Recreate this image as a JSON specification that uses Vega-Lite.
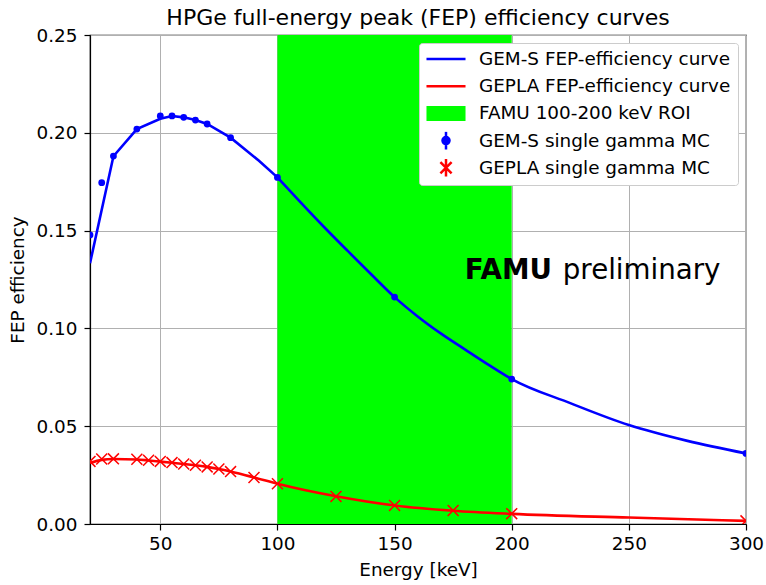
{
  "$schema": "https://vega.github.io/schema/vega-lite/v6.json",
  "width": 656,
  "height": 489,
  "autosize": "none",
  "padding": {"left": 90, "top": 35, "right": 20, "bottom": 61},
  "background": "white",
  "title": {
    "text": "HPGe full-energy peak (FEP) efficiency curves",
    "font": "DejaVu Sans",
    "fontSize": 22,
    "fontWeight": "normal",
    "color": "black",
    "anchor": "middle",
    "offset": -4
  },
  "config": {
    "view": {"stroke": "black", "strokeWidth": 1.2},
    "font": "DejaVu Sans",
    "axis": {
      "domainColor": "black",
      "domainWidth": 1.2,
      "tickColor": "black",
      "tickSize": 6,
      "tickWidth": 1.2,
      "labelFont": "DejaVu Sans",
      "labelFontSize": 18.4,
      "labelColor": "black",
      "labelFlush": false,
      "labelOverlap": false,
      "titleFont": "DejaVu Sans",
      "titleFontSize": 18.4,
      "titleFontWeight": "normal",
      "titleColor": "black",
      "gridColor": "#b0b0b0",
      "gridWidth": 1,
      "zindex": 1
    },
    "legend": {
      "title": null,
      "orient": "top-right",
      "offset": 8,
      "padding": 7,
      "symbolOffset": 10.5,
      "labelOffset": 23.5,
      "rowPadding": 8.2,
      "clipHeight": 18,
      "symbolSize": 256,
      "symbolStrokeWidth": 2.5,
      "symbolOpacity": 1,
      "labelFont": "DejaVu Sans",
      "labelFontSize": 18.4,
      "labelColor": "black",
      "labelLimit": 400,
      "fillColor": "white",
      "strokeColor": "#cccccc",
      "cornerRadius": 3
    }
  },
  "datasets": {
    "curve": [
      {"series": "GEM-S", "energy": 20, "eff": 0.1333},
      {"series": "GEM-S", "energy": 30, "eff": 0.188},
      {"series": "GEM-S", "energy": 40, "eff": 0.2019},
      {"series": "GEM-S", "energy": 50, "eff": 0.2072},
      {"series": "GEM-S", "energy": 55, "eff": 0.2086},
      {"series": "GEM-S", "energy": 60, "eff": 0.2079},
      {"series": "GEM-S", "energy": 65, "eff": 0.2065},
      {"series": "GEM-S", "energy": 70, "eff": 0.2045},
      {"series": "GEM-S", "energy": 80, "eff": 0.1975},
      {"series": "GEM-S", "energy": 92, "eff": 0.1858},
      {"series": "GEM-S", "energy": 100, "eff": 0.1772},
      {"series": "GEM-S", "energy": 110, "eff": 0.1643},
      {"series": "GEM-S", "energy": 120, "eff": 0.1517},
      {"series": "GEM-S", "energy": 130, "eff": 0.1396},
      {"series": "GEM-S", "energy": 140, "eff": 0.1277},
      {"series": "GEM-S", "energy": 150, "eff": 0.116},
      {"series": "GEM-S", "energy": 160, "eff": 0.106},
      {"series": "GEM-S", "energy": 170, "eff": 0.0972},
      {"series": "GEM-S", "energy": 180, "eff": 0.0893},
      {"series": "GEM-S", "energy": 190, "eff": 0.0815},
      {"series": "GEM-S", "energy": 200, "eff": 0.0741},
      {"series": "GEM-S", "energy": 225, "eff": 0.0618},
      {"series": "GEM-S", "energy": 250, "eff": 0.0506},
      {"series": "GEM-S", "energy": 275, "eff": 0.0425},
      {"series": "GEM-S", "energy": 300, "eff": 0.0361},
      {"series": "GEPLA", "energy": 20, "eff": 0.0312},
      {"series": "GEPLA", "energy": 25, "eff": 0.0328},
      {"series": "GEPLA", "energy": 30, "eff": 0.0332},
      {"series": "GEPLA", "energy": 40, "eff": 0.033},
      {"series": "GEPLA", "energy": 45, "eff": 0.0325},
      {"series": "GEPLA", "energy": 50, "eff": 0.0319},
      {"series": "GEPLA", "energy": 55, "eff": 0.0313},
      {"series": "GEPLA", "energy": 60, "eff": 0.0307},
      {"series": "GEPLA", "energy": 65, "eff": 0.03},
      {"series": "GEPLA", "energy": 70, "eff": 0.0292},
      {"series": "GEPLA", "energy": 75, "eff": 0.0281},
      {"series": "GEPLA", "energy": 80, "eff": 0.0268},
      {"series": "GEPLA", "energy": 90, "eff": 0.0238},
      {"series": "GEPLA", "energy": 100, "eff": 0.0206},
      {"series": "GEPLA", "energy": 125, "eff": 0.0142},
      {"series": "GEPLA", "energy": 150, "eff": 0.0095},
      {"series": "GEPLA", "energy": 175, "eff": 0.0068},
      {"series": "GEPLA", "energy": 200, "eff": 0.0052},
      {"series": "GEPLA", "energy": 250, "eff": 0.0033},
      {"series": "GEPLA", "energy": 300, "eff": 0.0016}
    ],
    "mc": [
      {"series": "GEM-S", "energy": 20, "eff": 0.1478},
      {"series": "GEM-S", "energy": 25, "eff": 0.1745},
      {"series": "GEM-S", "energy": 30, "eff": 0.1881},
      {"series": "GEM-S", "energy": 40, "eff": 0.2019},
      {"series": "GEM-S", "energy": 50, "eff": 0.2086},
      {"series": "GEM-S", "energy": 55, "eff": 0.2086},
      {"series": "GEM-S", "energy": 60, "eff": 0.2079},
      {"series": "GEM-S", "energy": 65, "eff": 0.2065},
      {"series": "GEM-S", "energy": 70, "eff": 0.2045},
      {"series": "GEM-S", "energy": 80, "eff": 0.1975},
      {"series": "GEM-S", "energy": 100, "eff": 0.1772},
      {"series": "GEM-S", "energy": 150, "eff": 0.116},
      {"series": "GEM-S", "energy": 200, "eff": 0.0741},
      {"series": "GEM-S", "energy": 300, "eff": 0.0361},
      {"series": "GEPLA", "energy": 20, "eff": 0.032},
      {"series": "GEPLA", "energy": 25, "eff": 0.0332},
      {"series": "GEPLA", "energy": 30, "eff": 0.0333},
      {"series": "GEPLA", "energy": 40, "eff": 0.0331},
      {"series": "GEPLA", "energy": 45, "eff": 0.0326},
      {"series": "GEPLA", "energy": 50, "eff": 0.032},
      {"series": "GEPLA", "energy": 55, "eff": 0.0314},
      {"series": "GEPLA", "energy": 60, "eff": 0.0307},
      {"series": "GEPLA", "energy": 65, "eff": 0.03},
      {"series": "GEPLA", "energy": 70, "eff": 0.0292},
      {"series": "GEPLA", "energy": 75, "eff": 0.0281},
      {"series": "GEPLA", "energy": 80, "eff": 0.0268},
      {"series": "GEPLA", "energy": 90, "eff": 0.0238},
      {"series": "GEPLA", "energy": 100, "eff": 0.0206},
      {"series": "GEPLA", "energy": 125, "eff": 0.0141},
      {"series": "GEPLA", "energy": 150, "eff": 0.0095},
      {"series": "GEPLA", "energy": 175, "eff": 0.0069},
      {"series": "GEPLA", "energy": 200, "eff": 0.0053},
      {"series": "GEPLA", "energy": 300, "eff": 0.0016}
    ],
    "roi": [{"start": 100, "end": 200}],
    "legend": [
      {"label": "GEM-S FEP-efficiency curve", "energy": -100, "eff": -1},
      {"label": "GEPLA FEP-efficiency curve", "energy": -100, "eff": -1},
      {"label": "FAMU 100-200 keV ROI", "energy": -100, "eff": -1},
      {"label": "GEM-S single gamma MC", "energy": -100, "eff": -1},
      {"label": "GEPLA single gamma MC", "energy": -100, "eff": -1}
    ],
    "notes": [
      {"text": "FAMU", "energy": 180.0, "eff": 0.1253, "part": "bold"},
      {"text": "preliminary", "energy": 221.8, "eff": 0.1253, "part": "normal"}
    ]
  },
  "encoding": {
    "x": {
      "field": "energy",
      "type": "quantitative",
      "scale": {"domain": [20, 300], "nice": false, "zero": false},
      "axis": {"title": "Energy [keV]", "values": [50, 100, 150, 200, 250, 300], "format": "d", "labelPadding": 4, "titlePadding": 8}
    },
    "y": {
      "field": "eff",
      "type": "quantitative",
      "scale": {"domain": [0, 0.25], "nice": false, "zero": false},
      "axis": {"title": "FEP efficiency", "values": [0, 0.05, 0.1, 0.15, 0.2, 0.25], "format": ".2f", "labelPadding": 7, "titlePadding": 9}
    }
  },
  "layer": [
    {
      "data": {"name": "roi"},
      "mark": {"type": "rect", "color": "#00ff00"},
      "encoding": {
        "x": {"field": "start", "type": "quantitative"},
        "x2": {"field": "end"},
        "y": null
      }
    },
    {
      "data": {"name": "curve"},
      "transform": [{"filter": "datum.series === 'GEM-S' && datum.energy <= 100"}],
      "mark": {"type": "line", "color": "#0000ff", "strokeWidth": 2.6, "clip": true}
    },
    {
      "data": {"name": "curve"},
      "transform": [{"filter": "datum.series === 'GEM-S' && datum.energy >= 100"}],
      "mark": {"type": "line", "color": "#0000ff", "strokeWidth": 2.6, "interpolate": "monotone", "clip": true}
    },
    {
      "data": {"name": "curve"},
      "transform": [{"filter": "datum.series === 'GEPLA'"}],
      "mark": {"type": "line", "color": "#ff0000", "strokeWidth": 2.6, "interpolate": "monotone", "clip": true}
    },
    {
      "data": {"name": "mc"},
      "transform": [{"filter": "datum.series === 'GEM-S'"}],
      "mark": {"type": "point", "shape": "circle", "filled": true, "color": "#0000ff", "size": 46, "opacity": 1, "clip": true}
    },
    {
      "data": {"name": "mc"},
      "transform": [{"filter": "datum.series === 'GEPLA'"}],
      "mark": {"type": "point", "shape": "M-1,-1L1,1M-1,1L1,-1", "filled": false, "color": "#ff0000", "size": 120, "strokeWidth": 1.5, "opacity": 1, "clip": true}
    },
    {
      "data": {"name": "legend"},
      "mark": {"type": "point", "clip": true, "opacity": 1, "strokeWidth": 2.5},
      "encoding": {
        "fill": {
          "field": "label",
          "type": "nominal",
          "scale": {
            "domain": ["GEM-S FEP-efficiency curve", "GEPLA FEP-efficiency curve", "FAMU 100-200 keV ROI", "GEM-S single gamma MC", "GEPLA single gamma MC"],
            "range": ["transparent", "transparent", "#00ff00", "#0000ff", "transparent"]
          }
        },
        "stroke": {
          "field": "label",
          "type": "nominal",
          "scale": {
            "domain": ["GEM-S FEP-efficiency curve", "GEPLA FEP-efficiency curve", "FAMU 100-200 keV ROI", "GEM-S single gamma MC", "GEPLA single gamma MC"],
            "range": ["#0000ff", "#ff0000", "transparent", "#0000ff", "#ff0000"]
          }
        },
        "shape": {
          "field": "label",
          "type": "nominal",
          "scale": {
            "domain": ["GEM-S FEP-efficiency curve", "GEPLA FEP-efficiency curve", "FAMU 100-200 keV ROI", "GEM-S single gamma MC", "GEPLA single gamma MC"],
            "range": [
              "M-2.44,0H2.44",
              "M-2.44,0H2.44",
              "M-2.44,-0.94H2.44V0.94H-2.44Z",
              "M0.44,0A0.44,0.44,0,1,1,-0.44,0A0.44,0.44,0,1,1,0.44,0ZM0,-1.1V1.1",
              "M-0.7,-0.7L0.7,0.7M-0.7,0.7L0.7,-0.7M0,-1.1V1.1"
            ]
          }
        }
      }
    },
    {
      "data": {"name": "notes"},
      "transform": [{"filter": "datum.part === 'bold'"}],
      "mark": {"type": "text", "font": "DejaVu Sans", "fontSize": 27.7, "fontWeight": "bold", "color": "black", "align": "left", "baseline": "alphabetic"},
      "encoding": {"text": {"field": "text"}}
    },
    {
      "data": {"name": "notes"},
      "transform": [{"filter": "datum.part === 'normal'"}],
      "mark": {"type": "text", "font": "DejaVu Sans", "fontSize": 27.7, "fontWeight": "normal", "color": "black", "align": "left", "baseline": "alphabetic"},
      "encoding": {"text": {"field": "text"}}
    }
  ]
}
